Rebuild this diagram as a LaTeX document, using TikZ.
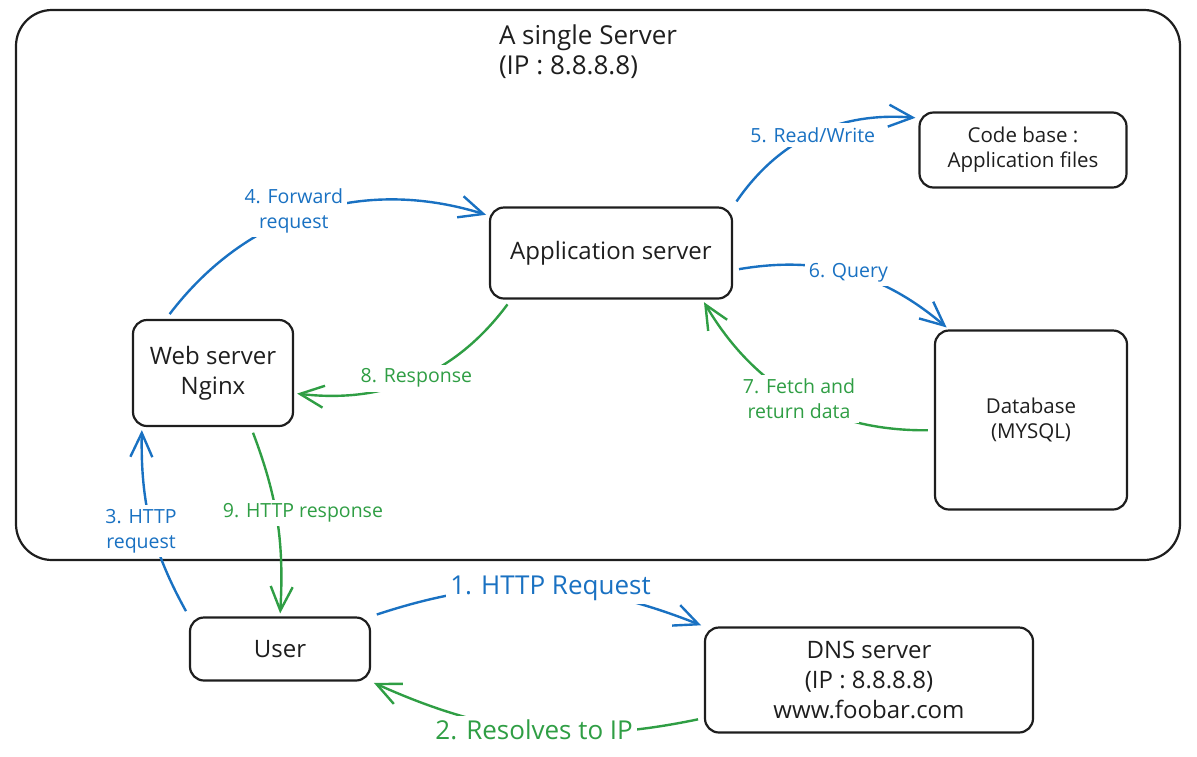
\documentclass[tikz,border=0pt]{standalone}
\usepackage{fontspec}
\setmainfont{Open Sans}
\usetikzlibrary{arrows.meta,positioning}

\definecolor{ink}{HTML}{1E1E1E}
\definecolor{flowblue}{HTML}{1971C2}
\definecolor{flowgreen}{HTML}{2F9E44}
\newcommand{\boxfont}{\fontsize{24}{30}\selectfont}
\newcommand{\smallbox}{\fontsize{20.5}{25}\selectfont}
\newcommand{\lblfont}{\fontsize{19.5}{25}\selectfont}
\newcommand{\biglbl}{\fontsize{26}{30}\selectfont}

\begin{document}
\begin{tikzpicture}[x=1pt,y=-1pt,>={Straight Barb[length=24pt,width=22pt]},
    box/.style={draw=ink,line width=2.2pt,rounded corners=14pt,align=center,text=ink,font=\boxfont},
    req/.style={->,color=flowblue,line width=2.4pt,shorten <=6pt,shorten >=3pt},
    resp/.style={->,color=flowgreen,line width=2.4pt,shorten <=6pt,shorten >=3pt},
    lbl/.style={fill=white,align=center,inner sep=4pt,font=\lblfont}]
    \useasboundingbox (0,0) rectangle (1197,756);

    \node[draw=ink,line width=2.2pt,rounded corners=36pt,minimum width=1164pt,minimum height=550pt] (server) at (598,285) {};
    \node[align=left,text=ink,font=\biglbl] (title) at (588,52) {A single Server\\(IP : 8.8.8.8)};

    \node[box,minimum width=242pt,minimum height=91pt] (appsrv) at (611,253) {Application server};
    \node[box,minimum width=207pt,minimum height=75pt,font=\smallbox] (code) at (1023,150) {Code base :\\Application files};
    \node[box,minimum width=160pt,minimum height=106pt] (web) at (213,373) {Web server\\Nginx};
    \node[box,minimum width=192pt,minimum height=179pt,font=\smallbox] (db) at (1031,420) {Database\\(MYSQL)};
    \node[box,minimum width=180pt,minimum height=63pt] (user) at (280,649) {User};
    \node[box,minimum width=328pt,minimum height=105pt] (dns) at (869,680) {DNS server\\(IP : 8.8.8.8)\\www.foobar.com};

    \draw[req] (user.north east) to[bend left=20] node[lbl,font=\biglbl,xshift=12pt] {1. HTTP Request} (dns.north west);
    \draw[resp] (dns.193) to[bend left=18] node[lbl,font=\biglbl] {2. Resolves to IP} (user.south east);
    \draw[req] (user.north west) to[bend left=15] node[lbl,xshift=-10pt,yshift=-6pt] {3. HTTP\\request} ([xshift=10pt]web.south west);
    \draw[req] (web.131) to[bend left=35] node[lbl,pos=0.45,yshift=8pt] {4. Forward\\request} (appsrv.163);
    \draw[req] (appsrv.north east) to[bend left=30] node[lbl] {5. Read/Write} (code.163);
    \draw[req] (appsrv.-8) to[bend left=25] node[lbl] {6. Query} ([xshift=15pt]db.north west);
    \draw[resp] (db.186) to[bend left=30] node[lbl] {7. Fetch and\\return data} (appsrv.-27);
    \draw[resp] (appsrv.205) to[bend left=30] node[lbl] {8. Response} (web.-14);
    \draw[resp] (web.-55) to[bend left=12] node[lbl,xshift=26pt,yshift=7pt] {9. HTTP response} (user.north);
\end{tikzpicture}
\end{document}
